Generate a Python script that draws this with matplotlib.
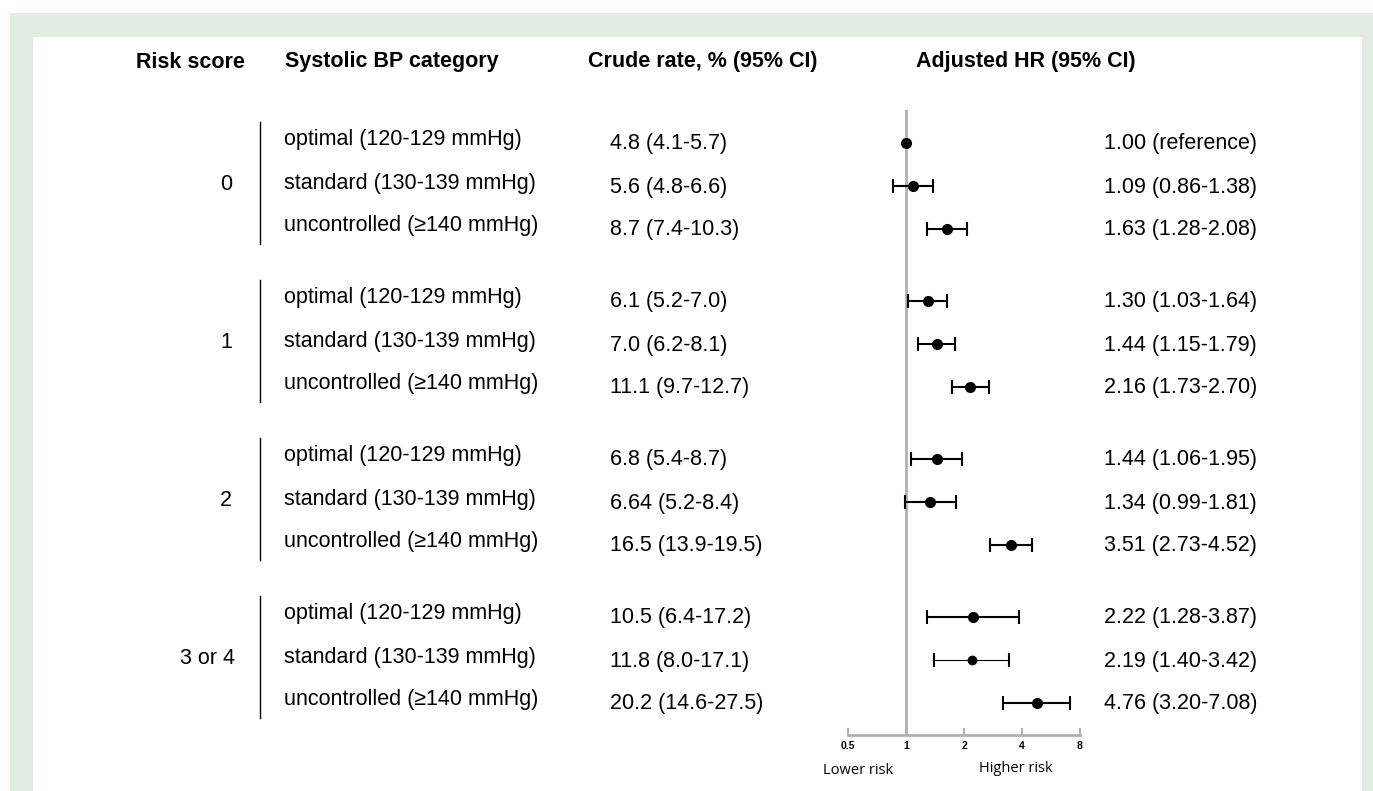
import matplotlib
matplotlib.use('Agg')
from matplotlib import pyplot as plt
from matplotlib.patches import Rectangle

##### Data #####
risk_scores = ['0', '1', '2', '3 or 4']
bp_categories = ['optimal (120-129 mmHg)', 'standard (130-139 mmHg)', 'uncontrolled (\u2265140 mmHg)']
crude_rates = ['4.8 (4.1-5.7)', '5.6 (4.8-6.6)', '8.7 (7.4-10.3)',
               '6.1 (5.2-7.0)', '7.0 (6.2-8.1)', '11.1 (9.7-12.7)',
               '6.8 (5.4-8.7)', '6.64 (5.2-8.4)', '16.5 (13.9-19.5)',
               '10.5 (6.4-17.2)', '11.8 (8.0-17.1)', '20.2 (14.6-27.5)']
hr = [1.00, 1.09, 1.63, 1.30, 1.44, 2.16, 1.44, 1.34, 3.51, 2.22, 2.19, 4.76]
hr_low = [1.00, 0.86, 1.28, 1.03, 1.15, 1.73, 1.06, 0.99, 2.73, 1.28, 1.40, 3.20]
hr_high = [1.00, 1.38, 2.08, 1.64, 1.79, 2.70, 1.95, 1.81, 4.52, 3.87, 3.42, 7.08]
hr_text = ['1.00 (reference)', '1.09 (0.86-1.38)', '1.63 (1.28-2.08)',
           '1.30 (1.03-1.64)', '1.44 (1.15-1.79)', '2.16 (1.73-2.70)',
           '1.44 (1.06-1.95)', '1.34 (0.99-1.81)', '3.51 (2.73-4.52)',
           '2.22 (1.28-3.87)', '2.19 (1.40-3.42)', '4.76 (3.20-7.08)']
axis_ticks = [0.5, 1, 2, 4, 8]

W, H = 1373, 791
fig = plt.figure(figsize=(W / 100, H / 100), dpi=100)

# background panel in pixel coordinates
bg = fig.add_axes([0, 0, 1, 1])
bg.set_xlim(0, W)
bg.set_ylim(H, 0)
bg.axis('off')
bg.add_patch(Rectangle((10, 13), W - 10, H - 13, color='#e1ece2', lw=0))
bg.add_patch(Rectangle((33, 37), 1362 - 33, H - 37, color='white', lw=0))

font = 'Liberation Sans'
fs = 15.5

# headers
bg.text(136, 62, 'Risk score', ha='left', va='center', fontsize=fs, fontweight='bold', family=font)
bg.text(285, 62, 'Systolic BP category', ha='left', va='center', fontsize=fs, fontweight='bold', family=font)
bg.text(588, 62, 'Crude rate, % (95% CI)', ha='left', va='center', fontsize=fs, fontweight='bold', family=font)
bg.text(916, 62, 'Adjusted HR (95% CI)', ha='left', va='center', fontsize=fs, fontweight='bold', family=font)

# row positions (pixels)
row_y = []
for g in range(len(risk_scores)):
	for i in range(len(bp_categories)):
		row_y.append(143 + g * 158 + i * 43)

for g, score in enumerate(risk_scores):
	yc = row_y[g * 3 + 1]
	xs = 226 if len(score) == 1 else 207
	bg.text(xs, yc - 2, score, ha='center', va='center', fontsize=fs, family=font)
	bg.plot([260, 260], [row_y[g * 3] - 21, row_y[g * 3 + 2] + 15], color='black', lw=1)

for idx, y in enumerate(row_y):
	bg.text(284, y - 3, bp_categories[idx % 3], ha='left', va='center', fontsize=fs, family=font)
	bg.text(610, y + 1, crude_rates[idx], ha='left', va='center', fontsize=fs, family=font)
	bg.text(1257, y + 1, hr_text[idx], ha='right', va='center', fontsize=fs, family=font)

# forest plot
x0, x1 = 848, 1080
y_top, y_bot = 110, 735
ax = fig.add_axes([x0 / W, 1 - y_bot / H, (x1 - x0) / W, (y_bot - y_top) / H])
ax.set_xscale('log', base=2)
ax.set_xlim(0.5, 8)
ax.set_ylim(y_bot, y_top)
ax.patch.set_alpha(0)
for s in ['top', 'left', 'right']:
	ax.spines[s].set_visible(False)
ax.spines['bottom'].set_color('#b0b0b0')
ax.spines['bottom'].set_linewidth(2)
ax.axvline(1, color='#b0b0b0', lw=2, zorder=1)
ax.set_yticks([])
ax.set_xticks(axis_ticks)
ax.set_xticklabels(['0.5', '1', '2', '4', '8'], fontsize=7.5, fontweight='bold', family=font)
ax.xaxis.set_minor_locator(matplotlib.ticker.NullLocator())
ax.tick_params(axis='x', direction='in', length=5, width=1.5, color='#b0b0b0', pad=4)

for idx, y in enumerate(row_y):
	thin = (idx == 10)
	if hr_low[idx] != hr_high[idx]:
		ax.errorbar(hr[idx], y, xerr=[[hr[idx] - hr_low[idx]], [hr_high[idx] - hr[idx]]],
			fmt='none', ecolor='black', elinewidth=0.8 if thin else 1.5,
			capsize=5, capthick=1.5, zorder=2)
	ax.plot(hr[idx], y, 'o', color='black', markersize=6 if thin else 7, zorder=3)

bg.text(858, 770, 'Lower risk', ha='center', va='center', fontsize=10.5, family='Open Sans')
bg.text(1016, 768, 'Higher risk', ha='center', va='center', fontsize=10.5, family='Open Sans')

plt.savefig('out.png', dpi=100)
